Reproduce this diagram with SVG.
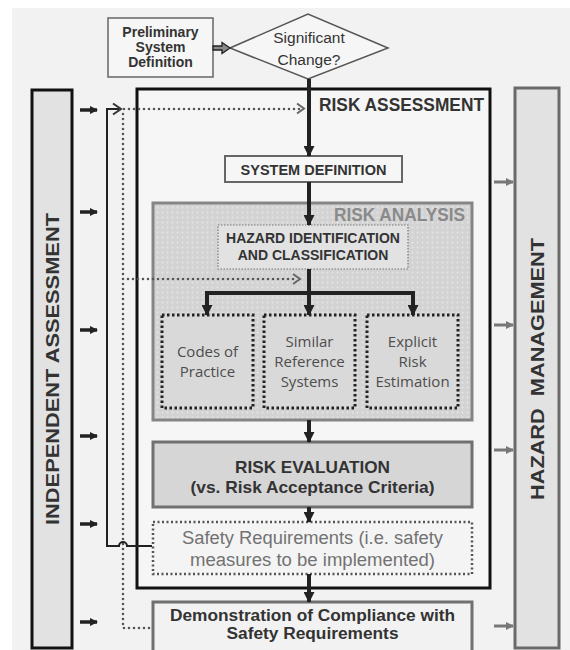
<svg xmlns="http://www.w3.org/2000/svg" width="570" height="650" viewBox="0 0 570 650">
<style>
  .t { font-family: "Liberation Sans", Arial, sans-serif; fill: #333; }
  .b { font-weight: bold; }
  .h { font-family: "Open Sans", "Noto Sans", sans-serif; }
  .flow { stroke: #222; stroke-width: 4; fill: none; }
  .dot { stroke: #555; stroke-width: 2.6; stroke-dasharray: 0 5; stroke-linecap: round; fill: none; }
  .chev { stroke: #666; stroke-width: 2; fill: none; }
  .la { stroke: #222; stroke-width: 3.5; fill: none; }
  .ra { stroke: #777; stroke-width: 3; fill: none; }
</style>
<defs>
  <marker id="ah" markerUnits="userSpaceOnUse" markerWidth="11" markerHeight="11" refX="10" refY="5.5" orient="auto">
    <path d="M0,0 L11,5.5 L0,11 z" fill="#222"/>
  </marker>
  <marker id="ahs" markerUnits="userSpaceOnUse" markerWidth="8" markerHeight="8" refX="7" refY="4" orient="auto">
    <path d="M0,0 L8,4 L0,8 z" fill="#222"/>
  </marker>
  <marker id="ahg" markerUnits="userSpaceOnUse" markerWidth="8" markerHeight="8" refX="7" refY="4" orient="auto">
    <path d="M0,0 L8,4 L0,8 z" fill="#777"/>
  </marker>
  <pattern id="grain" width="5" height="5" patternUnits="userSpaceOnUse">
    <rect width="5" height="5" fill="#d3d3d3"/>
    <circle cx="2.5" cy="2.5" r="0.9" fill="#e6e6e6"/>
  </pattern>
</defs>

<rect width="570" height="650" fill="#ffffff"/>
<rect x="12" y="8" width="558" height="642" fill="#f2f2f2"/>

<g id="independent-assessment">
  <rect x="32" y="90" width="40" height="558" fill="#e2e2e2" stroke="#111" stroke-width="3"/>
  <text class="t b" font-size="19" text-anchor="middle" transform="translate(58.5,369) rotate(-90)" textLength="312" lengthAdjust="spacingAndGlyphs">INDEPENDENT ASSESSMENT</text>
</g>

<g id="hazard-management">
  <rect x="515" y="88" width="44" height="560" fill="#e2e2e2" stroke="#6a6a6a" stroke-width="3"/>
  <text class="t b" font-size="19" text-anchor="middle" transform="translate(544,369) rotate(-90)" textLength="262" lengthAdjust="spacingAndGlyphs" xml:space="preserve">HAZARD  MANAGEMENT</text>
</g>

<g id="risk-assessment">
  <rect x="137" y="89" width="353" height="499" fill="#f6f6f6" stroke="#111" stroke-width="3"/>
  <text class="t b" font-size="18" x="484" y="111" text-anchor="end" textLength="165" lengthAdjust="spacingAndGlyphs">RISK ASSESSMENT</text>
</g>

<g id="preliminary-system-definition">
  <rect x="108" y="18" width="105" height="59" fill="#f6f6f6" stroke="#666" stroke-width="1.5"/>
  <text class="t b" font-size="14" text-anchor="middle" x="160.5" y="36.5">Preliminary</text>
  <text class="t b" font-size="14" text-anchor="middle" x="160.5" y="51.5">System</text>
  <text class="t b" font-size="14" text-anchor="middle" x="160.5" y="66.5">Definition</text>
</g>

<g id="significant-change">
  <polygon points="230,48 308,14 388,48 308,79" fill="#f6f6f6" stroke="#555" stroke-width="1.5"/>
  <text class="t" font-size="15.5" text-anchor="middle" x="309" y="43">Significant</text>
  <text class="t" font-size="15.5" text-anchor="middle" x="309" y="65">Change?</text>
</g>

<g id="system-definition">
  <rect x="225" y="156" width="177" height="26" fill="#f6f6f6" stroke="#666" stroke-width="2"/>
  <text class="t b" font-size="14.5" text-anchor="middle" x="313.5" y="174.5">SYSTEM DEFINITION</text>
</g>

<g id="risk-analysis">
  <rect x="153" y="203" width="319" height="217" fill="url(#grain)" stroke="#858585" stroke-width="3"/>
  <text class="t b" font-size="18" x="465" y="221" text-anchor="end" style="fill:#8a8a8a" textLength="131" lengthAdjust="spacingAndGlyphs">RISK ANALYSIS</text>
</g>

<g id="hazard-identification">
  <rect x="218" y="225" width="190" height="44" fill="#e2e2e2" stroke="#777" stroke-width="1.2" stroke-dasharray="1.5 1.5"/>
  <text class="t b" font-size="14" text-anchor="middle" x="313" y="242.5">HAZARD IDENTIFICATION</text>
  <text class="t b" font-size="14" text-anchor="middle" x="313" y="259.5">AND CLASSIFICATION</text>
</g>

<g id="codes-of-practice">
  <rect x="162" y="315" width="91" height="93" fill="#d9d9d9" stroke="#222" stroke-width="3" stroke-dasharray="2.5 2.5"/>
  <text class="t h" font-size="15" text-anchor="middle" x="207.5" y="357" style="fill:#4d4d4d">Codes of</text>
  <text class="t h" font-size="15" text-anchor="middle" x="207.5" y="377" style="fill:#4d4d4d">Practice</text>
</g>

<g id="similar-reference-systems">
  <rect x="264" y="315" width="91" height="93" fill="#d9d9d9" stroke="#222" stroke-width="3" stroke-dasharray="2.5 2.5"/>
  <text class="t h" font-size="15" text-anchor="middle" x="309.5" y="347" style="fill:#4d4d4d">Similar</text>
  <text class="t h" font-size="15" text-anchor="middle" x="309.5" y="367" style="fill:#4d4d4d">Reference</text>
  <text class="t h" font-size="15" text-anchor="middle" x="309.5" y="387" style="fill:#4d4d4d">Systems</text>
</g>

<g id="explicit-risk-estimation">
  <rect x="367" y="315" width="91" height="93" fill="#d9d9d9" stroke="#222" stroke-width="3" stroke-dasharray="2.5 2.5"/>
  <text class="t h" font-size="15" text-anchor="middle" x="412.5" y="347" style="fill:#4d4d4d">Explicit</text>
  <text class="t h" font-size="15" text-anchor="middle" x="412.5" y="367" style="fill:#4d4d4d">Risk</text>
  <text class="t h" font-size="15" text-anchor="middle" x="412.5" y="387" style="fill:#4d4d4d">Estimation</text>
</g>

<g id="risk-evaluation">
  <rect x="153" y="442" width="319" height="65" fill="#d6d6d6" stroke="#707070" stroke-width="3"/>
  <text class="t b" font-size="17" text-anchor="middle" x="312.5" y="473" textLength="155" lengthAdjust="spacingAndGlyphs">RISK EVALUATION</text>
  <text class="t b" font-size="17" text-anchor="middle" x="312.5" y="493" textLength="244" lengthAdjust="spacingAndGlyphs">(vs. Risk Acceptance Criteria)</text>
</g>

<g id="safety-requirements">
  <rect x="153" y="522" width="319" height="52" fill="#f4f4f4" stroke="#555" stroke-width="2.5" stroke-dasharray="2 2.5"/>
  <text class="t" font-size="18" text-anchor="middle" x="312.5" y="544" style="fill:#727272" textLength="261" lengthAdjust="spacingAndGlyphs">Safety Requirements (i.e. safety</text>
  <text class="t" font-size="18" text-anchor="middle" x="312.5" y="566" style="fill:#727272" textLength="245" lengthAdjust="spacingAndGlyphs">measures to be implemented)</text>
</g>

<g id="demonstration-of-compliance">
  <rect x="153" y="602" width="319" height="52" fill="#f2f2f2" stroke="#707070" stroke-width="3"/>
  <text class="t b" font-size="16" text-anchor="middle" x="312.5" y="620.5" textLength="285" lengthAdjust="spacingAndGlyphs">Demonstration of Compliance with</text>
  <text class="t b" font-size="16" text-anchor="middle" x="312.5" y="639" textLength="172" lengthAdjust="spacingAndGlyphs">Safety Requirements</text>
</g>

<g id="connectors">
  <polygon points="213,46 222,46 222,42.5 230,48 222,53.5 222,50 213,50" fill="#8a8a8a" stroke="#222" stroke-width="1.3"/>
  <path class="flow" d="M309,79 V156" marker-end="url(#ah)"/>
  <path class="flow" d="M309,182 V225" marker-end="url(#ah)"/>
  <path class="flow" d="M309,269 V315" marker-end="url(#ah)"/>
  <path class="flow" d="M207,293 H413" stroke-width="5"/>
  <path class="flow" d="M207,291 V315" marker-end="url(#ah)"/>
  <path class="flow" d="M413,291 V315" marker-end="url(#ah)"/>
  <path class="flow" d="M309,420 V442" marker-end="url(#ah)"/>
  <path class="flow" d="M309,507 V522" marker-end="url(#ah)"/>
  <path class="flow" d="M309,574 V602" marker-end="url(#ah)"/>

  <path class="dot" d="M124,109 H302"/>
  <path class="chev" d="M297,103.5 L304,108.5 L297,113.5"/>
  <path class="dot" d="M123,114 V628 H150"/>
  <path class="dot" d="M128,279 H298"/>
  <path class="chev" d="M293,274 L300,279 L293,284"/>

  <path d="M152,546 H127 A4,4 0 0 0 119,546 H107 V109 H119" stroke="#222" stroke-width="2" fill="none"/>
  <path d="M113,103.5 L121,109 L113,114.5" stroke="#333" stroke-width="2" fill="none"/>

  <path class="la" d="M80,110 H97" marker-end="url(#ahs)"/>
  <path class="la" d="M80,212 H97" marker-end="url(#ahs)"/>
  <path class="la" d="M80,330 H97" marker-end="url(#ahs)"/>
  <path class="la" d="M80,436 H97" marker-end="url(#ahs)"/>
  <path class="la" d="M80,524 H97" marker-end="url(#ahs)"/>
  <path class="la" d="M80,622 H97" marker-end="url(#ahs)"/>

  <path class="ra" d="M494,182 H513" marker-end="url(#ahg)"/>
  <path class="ra" d="M494,325 H513" marker-end="url(#ahg)"/>
  <path class="ra" d="M494,450 H513" marker-end="url(#ahg)"/>
  <path class="ra" d="M494,626 H513" marker-end="url(#ahg)"/>
</g>
</svg>
